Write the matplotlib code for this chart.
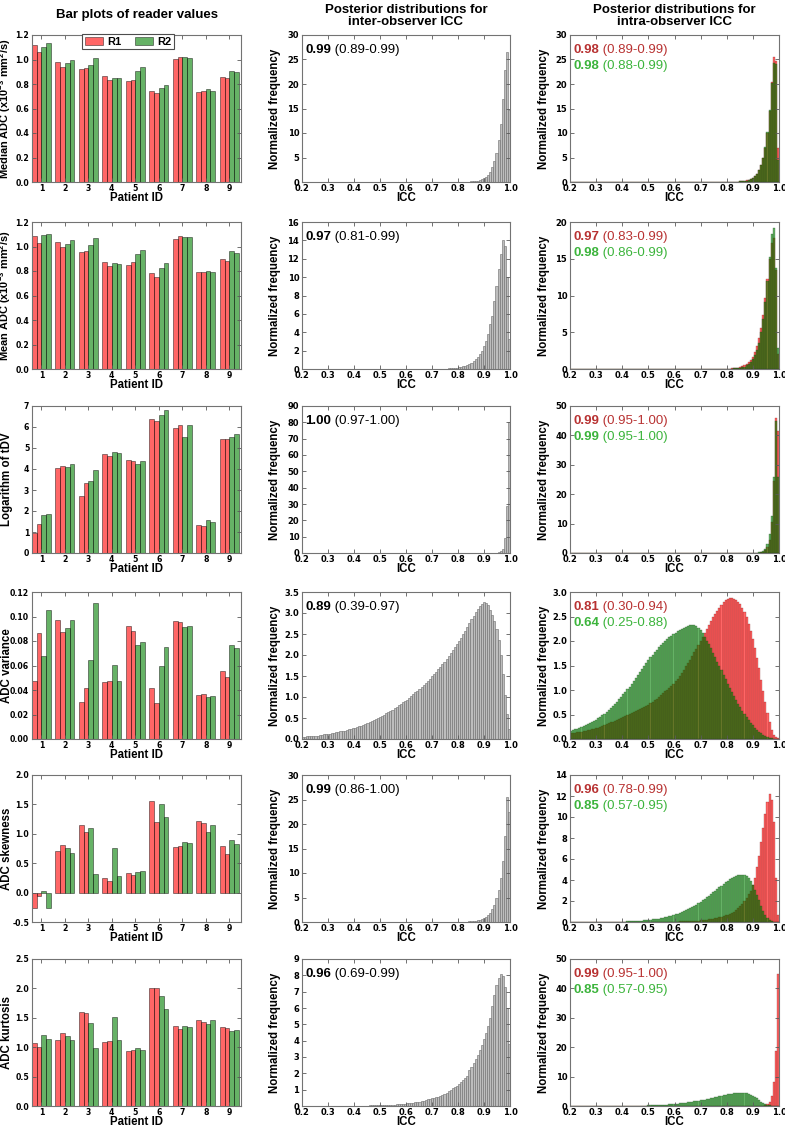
#!/usr/bin/env python
# coding: utf-8

import numpy as np
import matplotlib
matplotlib.use('Agg')
import matplotlib.pyplot as plt

plt.rcParams['font.family'] = ['Liberation Sans', 'DejaVu Sans']
plt.rcParams['mathtext.fontset'] = 'custom'
plt.rcParams['mathtext.rm'] = 'Liberation Sans:bold'
plt.rcParams['mathtext.default'] = 'rm'

###############################################
# Reader values (2 readings per reader, 9 patients)
###############################################
patients = [1, 2, 3, 4, 5, 6, 7, 8, 9]

median_r1a = [1.115, 0.979, 0.925, 0.862, 0.824, 0.739, 1.001, 0.734, 0.856]
median_r1b = [1.064, 0.941, 0.933, 0.834, 0.834, 0.725, 1.023, 0.739, 0.848]
median_r2a = [1.104, 0.971, 0.954, 0.848, 0.905, 0.766, 1.020, 0.758, 0.903]
median_r2b = [1.137, 0.998, 1.009, 0.845, 0.938, 0.791, 1.015, 0.745, 0.895]

mean_r1a = [1.083, 1.036, 0.954, 0.873, 0.851, 0.783, 1.058, 0.791, 0.900]
mean_r1b = [1.031, 0.993, 0.965, 0.840, 0.870, 0.755, 1.083, 0.791, 0.884]
mean_r2a = [1.094, 1.020, 1.014, 0.864, 0.938, 0.824, 1.080, 0.796, 0.960]
mean_r2b = [1.104, 1.050, 1.072, 0.856, 0.971, 0.862, 1.077, 0.791, 0.946]

tdv_r1a = [0.95, 4.03, 2.72, 4.72, 4.45, 6.37, 5.94, 1.31, 5.45]
tdv_r1b = [1.37, 4.12, 3.32, 4.61, 4.36, 6.27, 6.08, 1.28, 5.43]
tdv_r2a = [1.82, 4.08, 3.41, 4.83, 4.23, 6.57, 5.51, 1.56, 5.51]
tdv_r2b = [1.85, 4.23, 3.93, 4.74, 4.36, 6.79, 6.11, 1.47, 5.67]

var_r1a = [0.0477, 0.0973, 0.0301, 0.0466, 0.0923, 0.0414, 0.0967, 0.0359, 0.0556]
var_r1b = [0.0863, 0.0877, 0.0414, 0.0471, 0.0885, 0.0290, 0.0956, 0.0367, 0.0510]
var_r2a = [0.0674, 0.0904, 0.0644, 0.0603, 0.0770, 0.0595, 0.0918, 0.0340, 0.0767]
var_r2b = [0.1050, 0.0973, 0.1110, 0.0474, 0.0795, 0.0751, 0.0923, 0.0348, 0.0742]

skew_r1a = [-0.26, 0.71, 1.15, 0.25, 0.33, 1.555, 0.77, 1.22, 0.79]
skew_r1b = [-0.055, 0.81, 1.03, 0.20, 0.30, 1.20, 0.80, 1.19, 0.65]
skew_r2a = [0.03, 0.76, 1.10, 0.76, 0.35, 1.50, 0.86, 1.03, 0.90]
skew_r2b = [-0.26, 0.68, 0.32, 0.28, 0.36, 1.29, 0.85, 1.155, 0.825]

kurt_r1a = [1.07, 1.116, 1.606, 1.082, 0.928, 2.00, 1.367, 1.458, 1.344]
kurt_r1b = [1.01, 1.236, 1.577, 1.099, 0.945, 2.01, 1.304, 1.435, 1.327]
kurt_r2a = [1.20, 1.184, 1.412, 1.509, 0.991, 1.868, 1.367, 1.401, 1.281]
kurt_r2b = [1.145, 1.116, 0.980, 1.128, 0.945, 1.657, 1.338, 1.458, 1.293]

###############################################
# Posterior histograms: normalized frequency per ICC bin
# 100 bins of width 0.008 from 0.2 to 1.0
###############################################
inter_median = [
	0, 0, 0, 0, 0, 0, 0, 0, 0, 0,
	0, 0, 0, 0, 0, 0, 0, 0, 0, 0,
	0, 0, 0, 0, 0, 0, 0, 0, 0, 0,
	0, 0, 0, 0, 0, 0, 0, 0, 0, 0,
	0, 0, 0, 0, 0, 0, 0, 0, 0, 0,
	0, 0, 0, 0, 0, 0, 0, 0, 0, 0,
	0, 0, 0, 0, 0, 0, 0, 0, 0, 0,
	0, 0, 0, 0, 0.01, 0.02, 0.03, 0.04, 0.05, 0.07,
	0.09, 0.12, 0.16, 0.22, 0.30, 0.40, 0.55, 0.75, 1.05, 1.5,
	2.1, 3.0, 4.2, 5.9, 8.5, 11.9, 17.0, 22.8, 26.6, 14.7]
intra_median_r1 = [
	0, 0, 0, 0, 0, 0, 0, 0, 0, 0,
	0, 0, 0, 0, 0, 0, 0, 0, 0, 0,
	0, 0, 0, 0, 0, 0, 0, 0, 0, 0,
	0, 0, 0, 0, 0, 0, 0, 0, 0, 0,
	0, 0, 0, 0, 0, 0, 0, 0, 0, 0,
	0, 0, 0, 0, 0, 0, 0, 0, 0, 0,
	0, 0, 0, 0, 0, 0, 0, 0, 0, 0,
	0, 0, 0, 0, 0.01, 0.02, 0.03, 0.04, 0.05, 0.07,
	0.09, 0.12, 0.16, 0.22, 0.31, 0.43, 0.6, 0.85, 1.2, 1.7,
	2.4, 3.4, 4.9, 7.0, 10.0, 14.5, 20.5, 25.5, 24.7, 7.0]
intra_median_r2 = [
	0, 0, 0, 0, 0, 0, 0, 0, 0, 0,
	0, 0, 0, 0, 0, 0, 0, 0, 0, 0,
	0, 0, 0, 0, 0, 0, 0, 0, 0, 0,
	0, 0, 0, 0, 0, 0, 0, 0, 0, 0,
	0, 0, 0, 0, 0, 0, 0, 0, 0, 0,
	0, 0, 0, 0, 0, 0, 0, 0, 0, 0,
	0, 0, 0, 0, 0, 0, 0, 0, 0, 0,
	0, 0, 0, 0, 0, 0.01, 0.02, 0.03, 0.04, 0.06,
	0.08, 0.11, 0.15, 0.21, 0.3, 0.42, 0.58, 0.82, 1.15, 1.6,
	2.4, 3.5, 5.0, 7.1, 10.2, 14.7, 20.2, 24.3, 24.0, 4.5]

inter_mean = [
	0, 0, 0, 0, 0, 0, 0, 0, 0, 0,
	0, 0, 0, 0, 0, 0, 0, 0, 0, 0,
	0, 0, 0, 0, 0, 0, 0, 0, 0, 0,
	0, 0, 0, 0, 0, 0, 0, 0, 0, 0,
	0, 0, 0, 0, 0, 0, 0, 0, 0, 0,
	0, 0, 0, 0, 0, 0, 0, 0, 0, 0,
	0, 0, 0, 0, 0.01, 0.02, 0.02, 0.03, 0.04, 0.05,
	0.06, 0.08, 0.1, 0.13, 0.16, 0.2, 0.25, 0.31, 0.38, 0.46,
	0.57, 0.7, 0.85, 1.05, 1.3, 1.6, 2.0, 2.5, 3.0, 3.8,
	4.9, 5.8, 7.4, 9.0, 10.9, 12.5, 14.0, 13.4, 10.0, 3.3]
intra_mean_r1 = [
	0, 0, 0, 0, 0, 0, 0, 0, 0, 0,
	0, 0, 0, 0, 0, 0, 0, 0, 0, 0,
	0, 0, 0, 0, 0, 0, 0, 0, 0, 0,
	0, 0, 0, 0, 0, 0, 0, 0, 0, 0,
	0, 0, 0, 0, 0, 0, 0, 0, 0, 0,
	0, 0, 0, 0, 0, 0, 0, 0, 0, 0,
	0, 0, 0, 0, 0, 0, 0, 0, 0, 0,
	0, 0.01, 0.015, 0.02, 0.03, 0.04, 0.06, 0.08, 0.1, 0.14,
	0.19, 0.26, 0.35, 0.48, 0.65, 0.9, 1.25, 1.7, 2.3, 3.1,
	4.2, 5.6, 7.4, 9.6, 12.3, 15.0, 17.2, 17.8, 13.5, 2.0]
intra_mean_r2 = [
	0, 0, 0, 0, 0, 0, 0, 0, 0, 0,
	0, 0, 0, 0, 0, 0, 0, 0, 0, 0,
	0, 0, 0, 0, 0, 0, 0, 0, 0, 0,
	0, 0, 0, 0, 0, 0, 0, 0, 0, 0,
	0, 0, 0, 0, 0, 0, 0, 0, 0, 0,
	0, 0, 0, 0, 0, 0, 0, 0, 0, 0,
	0, 0, 0, 0, 0, 0, 0, 0, 0, 0,
	0, 0, 0.01, 0.01, 0.02, 0.03, 0.04, 0.05, 0.07, 0.09,
	0.13, 0.18, 0.25, 0.34, 0.48, 0.68, 0.95, 1.3, 1.85, 2.6,
	3.6, 5.0, 6.8, 9.1, 12.0, 15.2, 18.3, 19.2, 13.8, 2.9]

inter_tdv = [
	0, 0, 0, 0, 0, 0, 0, 0, 0, 0,
	0, 0, 0, 0, 0, 0, 0, 0, 0, 0,
	0, 0, 0, 0, 0, 0, 0, 0, 0, 0,
	0, 0, 0, 0, 0, 0, 0, 0, 0, 0,
	0, 0, 0, 0, 0, 0, 0, 0, 0, 0,
	0, 0, 0, 0, 0, 0, 0, 0, 0, 0,
	0, 0, 0, 0, 0, 0, 0, 0, 0, 0,
	0, 0, 0, 0, 0, 0, 0, 0, 0, 0,
	0, 0, 0, 0, 0, 0, 0, 0, 0, 0,
	0, 0.05, 0.1, 0.2, 0.4, 1.0, 2.7, 9.0, 29.0, 80.5]
intra_tdv_r1 = [
	0, 0, 0, 0, 0, 0, 0, 0, 0, 0,
	0, 0, 0, 0, 0, 0, 0, 0, 0, 0,
	0, 0, 0, 0, 0, 0, 0, 0, 0, 0,
	0, 0, 0, 0, 0, 0, 0, 0, 0, 0,
	0, 0, 0, 0, 0, 0, 0, 0, 0, 0,
	0, 0, 0, 0, 0, 0, 0, 0, 0, 0,
	0, 0, 0, 0, 0, 0, 0, 0, 0, 0,
	0, 0, 0, 0, 0, 0, 0, 0, 0, 0,
	0, 0, 0, 0, 0, 0, 0, 0, 0, 0.05,
	0.1, 0.22, 0.45, 0.9, 2.0, 4.5, 10.5, 24.5, 46.0, 41.5]
intra_tdv_r2 = [
	0, 0, 0, 0, 0, 0, 0, 0, 0, 0,
	0, 0, 0, 0, 0, 0, 0, 0, 0, 0,
	0, 0, 0, 0, 0, 0, 0, 0, 0, 0,
	0, 0, 0, 0, 0, 0, 0, 0, 0, 0,
	0, 0, 0, 0, 0, 0, 0, 0, 0, 0,
	0, 0, 0, 0, 0, 0, 0, 0, 0, 0,
	0, 0, 0, 0, 0, 0, 0, 0, 0, 0,
	0, 0, 0, 0, 0, 0, 0, 0, 0, 0,
	0, 0, 0, 0, 0, 0, 0, 0, 0.05, 0.1,
	0.2, 0.4, 0.75, 1.5, 3.0, 6.3, 12.5, 26.0, 45.0, 26.0]

inter_var = [
	0.05, 0.05, 0.06, 0.06, 0.07, 0.07, 0.08, 0.08, 0.09, 0.10,
	0.11, 0.11, 0.12, 0.13, 0.14, 0.15, 0.16, 0.17, 0.18, 0.19,
	0.20, 0.21, 0.23, 0.24, 0.26, 0.27, 0.29, 0.30, 0.32, 0.34,
	0.36, 0.38, 0.40, 0.42, 0.45, 0.47, 0.50, 0.52, 0.55, 0.58,
	0.61, 0.64, 0.67, 0.70, 0.74, 0.77, 0.80, 0.83, 0.87, 0.90,
	0.94, 0.98, 1.02, 1.06, 1.11, 1.15, 1.19, 1.24, 1.29, 1.34,
	1.39, 1.44, 1.49, 1.55, 1.60, 1.66, 1.72, 1.78, 1.84, 1.90,
	1.97, 2.04, 2.11, 2.18, 2.26, 2.33, 2.41, 2.50, 2.58, 2.67,
	2.76, 2.85, 2.94, 3.03, 3.10, 3.17, 3.22, 3.26, 3.24, 3.18,
	3.08, 2.96, 2.82, 2.62, 2.35, 2.00, 1.55, 1.05, 0.60, 0.25]
intra_var_r1 = [
	0.12, 0.12, 0.13, 0.14, 0.14, 0.15, 0.16, 0.17, 0.18, 0.19,
	0.20, 0.21, 0.22, 0.23, 0.25, 0.26, 0.28, 0.30, 0.32, 0.34,
	0.35, 0.37, 0.39, 0.41, 0.43, 0.45, 0.47, 0.49, 0.51, 0.54,
	0.56, 0.58, 0.60, 0.62, 0.64, 0.66, 0.68, 0.70, 0.73, 0.76,
	0.79, 0.82, 0.85, 0.89, 0.93, 0.97, 1.01, 1.05, 1.09, 1.13,
	1.18, 1.23, 1.29, 1.35, 1.41, 1.48, 1.55, 1.62, 1.69, 1.77,
	1.84, 1.92, 2.00, 2.08, 2.16, 2.24, 2.32, 2.40, 2.48, 2.55,
	2.62, 2.68, 2.74, 2.79, 2.83, 2.86, 2.87, 2.87, 2.86, 2.84,
	2.80, 2.75, 2.68, 2.59, 2.48, 2.35, 2.20, 2.04, 1.86, 1.66,
	1.44, 1.21, 0.98, 0.75, 0.53, 0.34, 0.19, 0.09, 0.04, 0.02]
intra_var_r2 = [
	0.17, 0.18, 0.20, 0.21, 0.23, 0.24, 0.26, 0.28, 0.30, 0.32,
	0.34, 0.36, 0.39, 0.42, 0.45, 0.48, 0.52, 0.55, 0.59, 0.63,
	0.67, 0.71, 0.76, 0.81, 0.86, 0.91, 0.96, 1.02, 1.07, 1.13,
	1.19, 1.25, 1.31, 1.37, 1.43, 1.49, 1.55, 1.61, 1.67, 1.72,
	1.77, 1.82, 1.87, 1.92, 1.96, 2.00, 2.04, 2.08, 2.11, 2.14,
	2.17, 2.20, 2.23, 2.25, 2.27, 2.29, 2.31, 2.32, 2.33, 2.32,
	2.30, 2.27, 2.22, 2.16, 2.09, 2.01, 1.93, 1.85, 1.76, 1.67,
	1.58, 1.49, 1.40, 1.31, 1.22, 1.13, 1.04, 0.96, 0.88, 0.80,
	0.72, 0.65, 0.58, 0.51, 0.45, 0.39, 0.33, 0.28, 0.23, 0.19,
	0.15, 0.12, 0.09, 0.07, 0.05, 0.03, 0.02, 0.01, 0.01, 0.0]

inter_skew = [
	0, 0, 0, 0, 0, 0, 0, 0, 0, 0,
	0, 0, 0, 0, 0, 0, 0, 0, 0, 0,
	0, 0, 0, 0, 0, 0, 0, 0, 0, 0,
	0, 0, 0, 0, 0, 0, 0, 0, 0, 0,
	0, 0, 0, 0, 0, 0, 0, 0, 0, 0,
	0, 0, 0, 0, 0, 0, 0, 0, 0, 0,
	0, 0, 0, 0, 0, 0, 0, 0, 0.01, 0.02,
	0.02, 0.02, 0.02, 0.02, 0.03, 0.03, 0.04, 0.05, 0.07, 0.09,
	0.12, 0.15, 0.2, 0.27, 0.35, 0.45, 0.6, 0.8, 1.05, 1.4,
	1.9, 2.6, 3.5, 4.8, 6.5, 9.0, 12.5, 17.5, 25.5, 22.5]
intra_skew_r1 = [
	0, 0, 0, 0, 0, 0, 0, 0, 0, 0,
	0, 0, 0, 0, 0, 0, 0, 0, 0, 0,
	0, 0, 0, 0, 0, 0, 0, 0, 0, 0,
	0, 0, 0, 0, 0, 0, 0, 0, 0, 0,
	0, 0, 0, 0, 0, 0.01, 0.01, 0.02, 0.02, 0.03,
	0.04, 0.045, 0.05, 0.055, 0.06, 0.065, 0.07, 0.08, 0.09, 0.1,
	0.12, 0.13, 0.15, 0.17, 0.19, 0.21, 0.24, 0.27, 0.3, 0.34,
	0.38, 0.43, 0.49, 0.55, 0.62, 0.7, 0.79, 0.89, 1.0, 1.15,
	1.3, 1.5, 1.75, 2.0, 2.3, 2.65, 3.0, 3.5, 4.2, 5.2,
	6.3, 7.6, 9.0, 10.3, 11.4, 12.2, 11.6, 9.5, 4.2, 0.7]
intra_skew_r2 = [
	0, 0, 0, 0, 0, 0, 0, 0, 0, 0,
	0, 0, 0, 0, 0, 0.01, 0.01, 0.01, 0.01, 0.01,
	0.02, 0.02, 0.02, 0.03, 0.03, 0.04, 0.04, 0.05, 0.06, 0.07,
	0.08, 0.09, 0.10, 0.12, 0.13, 0.15, 0.17, 0.19, 0.21, 0.24,
	0.27, 0.30, 0.33, 0.37, 0.41, 0.45, 0.50, 0.55, 0.60, 0.66,
	0.72, 0.79, 0.86, 0.94, 1.02, 1.11, 1.21, 1.31, 1.42, 1.54,
	1.66, 1.79, 1.92, 2.06, 2.20, 2.35, 2.50, 2.66, 2.82, 2.98,
	3.14, 3.30, 3.46, 3.62, 3.78, 3.93, 4.07, 4.20, 4.31, 4.40,
	4.46, 4.50, 4.50, 4.45, 4.34, 4.15, 3.88, 3.52, 3.08, 2.58,
	2.05, 1.53, 1.06, 0.67, 0.38, 0.19, 0.08, 0.03, 0.01, 0.0]

inter_kurt = [
	0.005, 0.005, 0.005, 0.005, 0.005, 0.005, 0.005, 0.005, 0.005, 0.005,
	0.01, 0.01, 0.01, 0.01, 0.01, 0.01, 0.01, 0.01, 0.01, 0.01,
	0.015, 0.015, 0.015, 0.02, 0.02, 0.02, 0.02, 0.025, 0.025, 0.03,
	0.03, 0.03, 0.035, 0.035, 0.04, 0.04, 0.045, 0.05, 0.055, 0.06,
	0.07, 0.075, 0.08, 0.085, 0.09, 0.1, 0.11, 0.12, 0.13, 0.14,
	0.16, 0.17, 0.19, 0.2, 0.22, 0.24, 0.26, 0.29, 0.32, 0.36,
	0.4, 0.43, 0.46, 0.5, 0.54, 0.58, 0.63, 0.68, 0.74, 0.8,
	0.93, 1.0, 1.08, 1.16, 1.25, 1.35, 1.45, 1.57, 1.7, 1.85,
	2.2, 2.4, 2.65, 2.9, 3.15, 3.45, 3.75, 4.1, 4.5, 4.9,
	5.4, 6.1, 6.8, 7.4, 7.85, 8.1, 7.95, 7.3, 6.0, 3.8]
intra_kurt_r1 = [
	0, 0, 0, 0, 0, 0, 0, 0, 0, 0,
	0, 0, 0, 0, 0, 0, 0, 0, 0, 0,
	0, 0, 0, 0, 0, 0, 0, 0, 0, 0,
	0, 0, 0, 0, 0, 0, 0, 0, 0, 0,
	0, 0, 0, 0, 0, 0, 0, 0, 0, 0,
	0, 0, 0, 0, 0, 0, 0, 0, 0, 0,
	0, 0, 0, 0, 0, 0, 0, 0, 0, 0,
	0, 0, 0, 0, 0, 0, 0, 0, 0, 0,
	0, 0, 0, 0, 0, 0, 0, 0, 0.02, 0.03,
	0.05, 0.08, 0.15, 0.3, 0.7, 1.5, 3.4, 8.0, 18.8, 44.9]
# the published kurtosis panel shows the same R2 posterior as skewness
intra_kurt_r2 = list(intra_skew_r2)

# mode and 95% interval printed in each panel
inter_mode = ['0.99', '0.97', '1.00', '0.89', '0.99', '0.96']
inter_hpd = ['0.89-0.99', '0.81-0.99', '0.97-1.00', '0.39-0.97', '0.86-1.00', '0.69-0.99']
intra_mode_r1 = ['0.98', '0.97', '0.99', '0.81', '0.96', '0.99']
intra_hpd_r1 = ['0.89-0.99', '0.83-0.99', '0.95-1.00', '0.30-0.94', '0.78-0.99', '0.95-1.00']
intra_mode_r2 = ['0.98', '0.98', '0.99', '0.64', '0.85', '0.85']
intra_hpd_r2 = ['0.88-0.99', '0.86-0.99', '0.95-1.00', '0.25-0.88', '0.57-0.95', '0.57-0.95']

bar_ylabels = [r'Median ADC (x10$^{-3}$ mm$^{2}$/s)',
	r'Mean ADC (x10$^{-3}$ mm$^{2}$/s)',
	'Logarithm of tDV', 'ADC variance', 'ADC skewness', 'ADC kurtosis']

###############################################
# Layout (pixels of the 785x1125 figure)
###############################################
W, H = 785., 1125.
col_left = [32, 302, 570]
col_width = [209, 208, 209]
row_top = [35, 222, 406, 592, 775, 959]
row_height = 147
ylabel_x = [13, 281, 550]  # right edge of the rotated y label, pixels

edges = np.linspace(0.2, 1.0, 101)
centers = 0.5 * (edges[:-1] + edges[1:])

TXT_RED = '#b83232'
TXT_GREEN = '#3cb43c'
LABEL_SIZE = 8.3


def make_ax(fig, row, col):
	l = col_left[col] / W
	b = 1 - (row_top[row] + row_height) / H
	ax = fig.add_axes([l, b, col_width[col] / W, row_height / H])
	for s in ax.spines.values():
		s.set_color('0.45')
		s.set_linewidth(0.8)
	ax.tick_params(direction='in', top=True, right=True, length=3, width=0.6,
				   color='0.35', labelsize=6 if col else 5.6, pad=2)
	ax.tick_params(axis='x', pad=1.5)
	return ax


def style_ticklabels(ax, col):
	for lab in ax.get_xticklabels() + ax.get_yticklabels():
		lab.set_family('DejaVu Sans')
		lab.set_fontweight('bold')
	ax.yaxis.set_label_coords((ylabel_x[col] - col_left[col]) / col_width[col], 0.5)


def bar_panel(ax, vals, ylabel, ylim, ystep, fmt):
	x = np.array(patients)
	offs = [-0.3, -0.1, 0.1, 0.3]
	cols = ['r', 'r', 'g', 'g']
	labels = ['R1', None, 'R2', None]
	for off, v, c, lab in zip(offs, vals, cols, labels):
		ax.bar(x + off, v, width=0.2, color=c, alpha=0.6, edgecolor='k',
			   linewidth=0.5, label=lab)
	ax.set_xlim(0.6, 9.5)
	ax.set_ylim(*ylim)
	ax.set_xticks(patients)
	ax.set_yticks(np.arange(ylim[0], ylim[1] + ystep / 2, ystep))
	ax.yaxis.set_major_formatter(plt.FormatStrFormatter(fmt))
	ax.set_xlabel('Patient ID', fontsize=LABEL_SIZE, fontweight='bold', labelpad=-1)
	# the two ADC labels carry superscripts and are the longest ones
	size = 7.9 if '$' in ylabel else LABEL_SIZE
	ax.set_ylabel(ylabel, fontsize=size, fontweight='bold')
	style_ticklabels(ax, 0)


def icc_text(ax, y, mode, hpd, c_bold, c_norm):
	t = ax.text(0.015, y, mode, transform=ax.transAxes, fontsize=9.5,
				fontweight='bold', color=c_bold, va='bottom', ha='left')
	ax.annotate(' (%s)' % hpd, xy=(1, 0), xycoords=t, va='bottom', ha='left',
				fontsize=9.5, color=c_norm)


def hist_panel(ax, col, ylim, ystep):
	ax.set_xlim(0.2, 1.0)
	ax.set_ylim(*ylim)
	ax.set_xticks(np.arange(0.2, 1.01, 0.1))
	ax.xaxis.set_major_formatter(plt.FormatStrFormatter('%.1f'))
	yt = np.arange(ylim[0], ylim[1] + ystep / 2, ystep)
	ax.set_yticks(yt)
	if ystep < 1:
		ax.yaxis.set_major_formatter(plt.FormatStrFormatter('%.1f'))
	else:
		ax.yaxis.set_major_formatter(plt.FormatStrFormatter('%d'))
	ax.set_xlabel('ICC', fontsize=LABEL_SIZE, fontweight='bold', labelpad=-1)
	ax.set_ylabel('Normalized frequency', fontsize=LABEL_SIZE, fontweight='bold')
	style_ticklabels(ax, col)


def main():
	fig = plt.figure(figsize=(W / 100, H / 100), dpi=100)

	bar_data = [
		[median_r1a, median_r1b, median_r2a, median_r2b],
		[mean_r1a, mean_r1b, mean_r2a, mean_r2b],
		[tdv_r1a, tdv_r1b, tdv_r2a, tdv_r2b],
		[var_r1a, var_r1b, var_r2a, var_r2b],
		[skew_r1a, skew_r1b, skew_r2a, skew_r2b],
		[kurt_r1a, kurt_r1b, kurt_r2a, kurt_r2b]]
	bar_ylims = [(0, 1.2), (0, 1.2), (0, 7), (0, 0.12), (-0.5, 2.0), (0, 2.5)]
	bar_steps = [0.2, 0.2, 1, 0.02, 0.5, 0.5]
	bar_fmts = ['%.1f', '%.1f', '%d', '%.2f', '%.1f', '%.1f']

	inter_data = [inter_median, inter_mean, inter_tdv, inter_var, inter_skew, inter_kurt]
	inter_ylims = [(0, 30), (0, 16), (0, 90), (0, 3.5), (0, 30), (0, 9)]
	inter_steps = [5, 2, 10, 0.5, 5, 1]

	intra_r1 = [intra_median_r1, intra_mean_r1, intra_tdv_r1, intra_var_r1,
				intra_skew_r1, intra_kurt_r1]
	intra_r2 = [intra_median_r2, intra_mean_r2, intra_tdv_r2, intra_var_r2,
				intra_skew_r2, intra_kurt_r2]
	intra_ylims = [(0, 30), (0, 20), (0, 50), (0, 3.0), (0, 14), (0, 50)]
	intra_steps = [5, 5, 10, 0.5, 2, 10]

	for row in range(6):
		##########################################
		# Bar plots
		##########################################
		ax = make_ax(fig, row, 0)
		bar_panel(ax, bar_data[row], bar_ylabels[row], bar_ylims[row],
				  bar_steps[row], bar_fmts[row])
		if row == 0:
			leg = ax.legend(loc='upper center', bbox_to_anchor=(0.46, 1.045), ncol=2,
							prop={'weight': 'bold', 'size': 8},
							handlelength=1.6, handletextpad=0.4, columnspacing=1.2,
							borderpad=0.25, fancybox=False, framealpha=1)
			leg.get_frame().set_edgecolor('0.3')
			leg.get_frame().set_linewidth(0.8)

		##########################################
		# Inter-observer posterior
		##########################################
		ax = make_ax(fig, row, 1)
		ax.hist(centers, bins=edges, weights=inter_data[row], color='0.74',
				edgecolor='0.42', linewidth=0.4)
		hist_panel(ax, 1, inter_ylims[row], inter_steps[row])
		icc_text(ax, 0.855, inter_mode[row], inter_hpd[row], 'k', 'k')

		##########################################
		# Intra-observer posterior
		##########################################
		ax = make_ax(fig, row, 2)
		ax.hist(centers, bins=edges, weights=intra_r1[row], color='r', alpha=0.6,
				edgecolor='#7a1010', linewidth=0.3)
		ax.hist(centers, bins=edges, weights=intra_r2[row], color='g', alpha=0.6,
				edgecolor='#0f3f0f', linewidth=0.3)
		hist_panel(ax, 2, intra_ylims[row], intra_steps[row])
		icc_text(ax, 0.855, intra_mode_r1[row], intra_hpd_r1[row], TXT_RED, TXT_RED)
		icc_text(ax, 0.745, intra_mode_r2[row], intra_hpd_r2[row], TXT_GREEN, TXT_GREEN)

	# column titles
	fig.text((32 + 241) / 2 / W, 1 - 15 / H, 'Bar plots of reader values',
			 ha='center', va='center', fontsize=9.5, fontweight='bold')
	fig.text((302 + 510) / 2 / W, 1 - 16 / H, 'Posterior distributions for\ninter-observer ICC',
			 ha='center', va='center', fontsize=9.5, fontweight='bold', linespacing=1.1)
	fig.text((570 + 779) / 2 / W, 1 - 16 / H, 'Posterior distributions for\nintra-observer ICC',
			 ha='center', va='center', fontsize=9.5, fontweight='bold', linespacing=1.1)

	plt.savefig('out.png', dpi=100)


if __name__ == '__main__':
	main()
